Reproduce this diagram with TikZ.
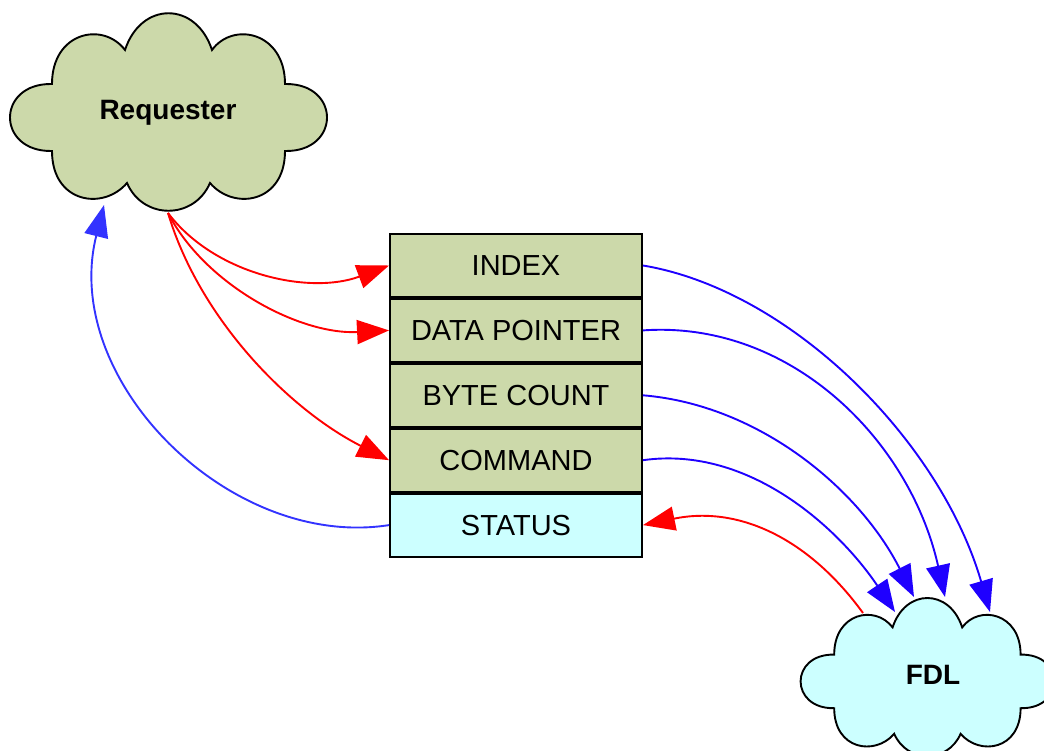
\documentclass[tikz,border=0pt]{standalone}
\usepackage{fontspec}
\setmainfont{Liberation Sans}
\usetikzlibrary{positioning}
\usetikzlibrary{arrows.meta}
\definecolor{olivefill}{HTML}{CCD9AA}
\definecolor{cyanfill}{HTML}{CCFFFF}
\definecolor{arrowblue}{HTML}{1F00FF}
\definecolor{statusblue}{HTML}{3333FF}
\newcommand{\cloudpath}{(-116,-33) .. controls (-172,-34) and (-172,35) .. (-116,34)
    .. controls (-116,86) and (-65,94) .. (-41,66)
    .. controls (-25,103) and (26,103) .. (42,66)
    .. controls (66,94) and (117,86) .. (117,34)
    .. controls (173,35) and (173,-34) .. (117,-33)
    .. controls (117,-85) and (65,-96) .. (44,-67)
    .. controls (28,-116) and (-27,-116) .. (-43,-67)
    .. controls (-65,-96) and (-116,-85) .. (-116,-33) -- cycle}
\tikzset{
        treenode/.style={align=center,inner sep=0pt},
        % Table rows
        node_row/.style={treenode, rectangle, black, draw=black, line width=1.9pt, fill=olivefill, minimum width=252pt, minimum height=63pt, font=\fontsize{29}{32}\selectfont},
        node_status/.style={node_row, fill=cyanfill},
        % Cloud labels
        node_cloud/.style={treenode, black, font=\fontsize{28}{32}\selectfont\bfseries},
        cloud_line/.style={draw=black, line width=1.9pt},
        % Connectors
        link_red/.style={red, line width=1.9pt, -{Triangle[length=32pt,width=24pt]}},
        link_blue/.style={arrowblue, line width=1.9pt, -{Triangle[length=32pt,width=24pt]}},
        link_status/.style={statusblue, line width=1.9pt, -{Triangle[length=32pt,width=24pt]}}
}
\begin{document}
\begin{tikzpicture}[x=1pt, y=-1pt]
    \clip (0,0) rectangle (1044,751);
    % Clouds
    \begin{scope}[shift={(168,117)}]
        \draw[cloud_line, fill=olivefill] \cloudpath;
    \end{scope}
    \begin{scope}[shift={(927,681)}, scale=0.8]
        \draw[cloud_line, fill=cyanfill] \cloudpath;
    \end{scope}
    \node[node_cloud] (requester) at (168,113) {Requester};
    \node[node_cloud] (fdl) at (933,675) {FDL};
    \coordinate (requester_out) at (168,213);
    \coordinate (requester_in) at (104,205);
    \coordinate (fdl_out) at (863,613);
    \coordinate (fdl_in_a) at (990,612);
    \coordinate (fdl_in_b) at (945,597);
    \coordinate (fdl_in_c) at (914,597);
    \coordinate (fdl_in_d) at (895,612);
    % Table
    \node[node_row] (index) at (516,265.5) {INDEX};
    \node[node_row, below=0pt of index] (data) {DATA POINTER};
    \node[node_row, below=0pt of data] (count) {BYTE COUNT};
    \node[node_row, below=0pt of count] (command) {COMMAND};
    \node[node_status, below=0pt of command] (status) {STATUS};
    % Connectors
    \draw[link_red] (requester_out) .. controls (215,275) and (310,295) .. (index.west);
    \draw[link_red] (requester_out) .. controls (205,285) and (300,335) .. (data.west);
    \draw[link_red] (requester_out) .. controls (200,320) and (290,410) .. (command.west);
    \draw[link_status] (status.west) .. controls (230,550) and (60,380) .. (requester_in);
    \draw[link_blue] (index.east) .. controls (790,290) and (940,440) .. (fdl_in_a);
    \draw[link_blue] (data.east) .. controls (790,320) and (910,440) .. (fdl_in_b);
    \draw[link_blue] (count.east) .. controls (760,405) and (860,490) .. (fdl_in_c);
    \draw[link_blue] (command.east) .. controls (750,445) and (840,530) .. (fdl_in_d);
    \draw[link_red] (fdl_out) .. controls (810,540) and (740,505) .. (status.east);
\end{tikzpicture}
\end{document}
